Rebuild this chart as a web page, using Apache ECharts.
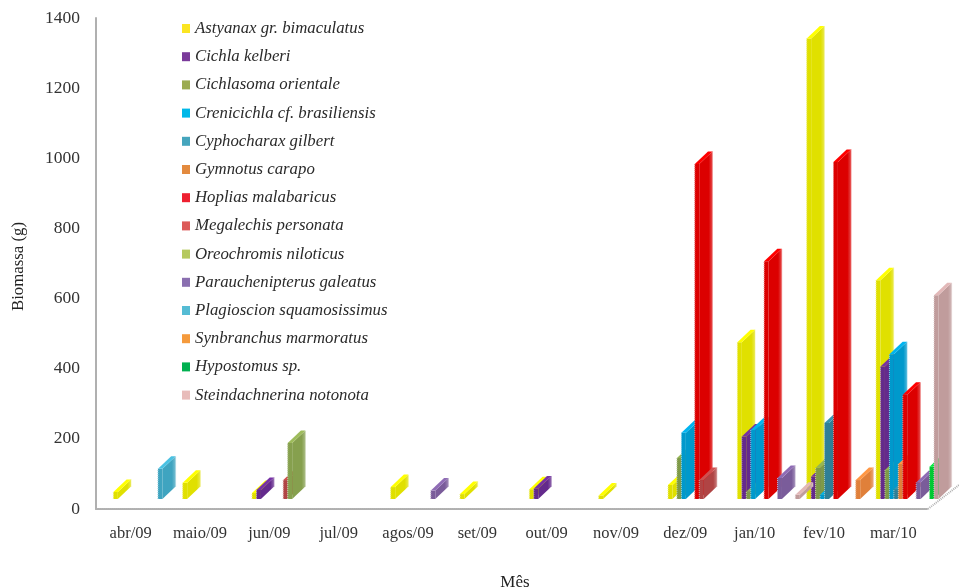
<!DOCTYPE html>
<html><head><meta charset="utf-8">
<style>html,body{margin:0;padding:0;background:#fff}#c{width:959px;height:588px}</style>
<script src="https://cdn.jsdelivr.net/npm/echarts@6/dist/echarts.min.js"></script>
</head><body><div id="c"></div>
<script>
const months = ['abr/09','maio/09','jun/09','jul/09','agos/09','set/09','out/09','nov/09','dez/09','jan/10','fev/10','mar/10'];
const names = ['Astyanax gr. bimaculatus','Cichla kelberi','Cichlasoma orientale','Crenicichla cf. brasiliensis','Cyphocharax gilbert','Gymnotus carapo','Hoplias malabaricus','Megalechis personata','Oreochromis niloticus','Parauchenipterus galeatus','Plagioscion squamosissimus','Synbranchus marmoratus','Hypostomus sp.','Steindachnerina notonota'];
const astyanax    = [20,46,17,0,34,14,28,10,40,447,1313,624];
const cichla      = [0,0,26,0,0,0,30,0,0,178,64,378];
const cichlasoma  = [0,0,0,0,0,0,0,0,117,21,89,83];
const crenicichla = [0,0,0,0,0,0,0,0,189,197,12,413];
const cyphocharax = [0,0,0,0,0,0,0,0,0,0,217,28];
const gymnotus    = [0,0,0,0,0,0,0,0,0,0,0,100];
const hoplias     = [0,0,0,0,0,0,0,0,955,678,961,297];
const megalechis  = [0,0,54,0,0,0,0,0,54,0,0,0];
const oreochromis = [0,0,160,0,0,0,0,0,0,0,0,0];
const parauchen   = [0,0,0,0,24,0,0,0,0,60,0,47];
const plagioscion = [86,0,0,0,0,0,0,0,0,0,0,0];
const synbranchus = [0,0,0,0,0,0,0,0,0,0,54,0];
const hypostomus  = [0,0,0,0,0,0,0,0,0,0,0,92];
const steind      = [0,0,0,0,0,0,0,0,0,12,0,581];
const values = [astyanax,cichla,cichlasoma,crenicichla,cyphocharax,gymnotus,hoplias,megalechis,oreochromis,parauchen,plagioscion,synbranchus,hypostomus,steind];
const legendColors = ['#fbe522','#7a3a9a','#9bab50','#00b8e8','#45a5bd','#e38a3e','#ee2030','#dc5a58','#b5c95e','#8a6fb0','#55bcd4','#f59a3c','#00b050','#e8bcba'];
const barColors    = ['#e0e000','#642a8c','#7f9a48','#0099cc','#2f7f96','#e0803a','#dc0000','#b04444','#86a04e','#7a5c9a','#3fa4c0','#e0803a','#00c832','#c09c9c'];

const SLOT = 4.46, START = -17.3, DEPTH_X = 13.2, DEPTH_Y = 12.5, LIFT = 10;
const shade = (c, k) => echarts.color.lift(c, k);

function render(idx) {
  return function (params, api) {
    const m = api.value(0), v = api.value(1);
    const cx = api.coord([m, 0])[0];
    const y0 = api.coord([m, 0])[1] - LIFT;
    const y1 = api.coord([m, v])[1] - LIFT;
    const x0 = cx + START + idx * SLOT, x1 = x0 + SLOT;
    const c = barColors[idx];
    const dx = DEPTH_X, dy = DEPTH_Y;
    const dark = shade(c, 0.5);
    const poly = (pts, fill) => ({type:'polygon', shape:{points:pts}, style:{fill:fill, stroke:null}});
    const line = (a, b) => ({type:'line', shape:{x1:a[0],y1:a[1],x2:b[0],y2:b[1]}, style:{stroke:dark,lineWidth:1,lineDash:[1,1]}});
    return {type:'group', children:[
      poly([[x1,y0],[x1+dx,y0-dy],[x1+dx,y1-dy],[x1,y1]], new echarts.graphic.LinearGradient(0,0,1,0,[
        {offset:0,color:c},{offset:0.72,color:c},{offset:1,color:shade(c,0.3)}])),
      poly([[x0,y0],[x1,y0],[x1,y1],[x0,y1]], c),
      poly([[x0,y1],[x1,y1],[x1+dx,y1-dy],[x0+dx,y1-dy]], shade(c,-0.18)),
      line([x0,y0],[x0,y1]),
      line([x1+dx,y0-dy],[x1+dx,y1-dy])
    ]};
  };
}

const series = names.map((n,i)=>({
  name:n, type:'custom', coordinateSystem:'cartesian2d', clip:false,
  renderItem:render(i), encode:{x:0,y:1},
  itemStyle:{color:legendColors[i]},
  data:values[i].map((v,m)=>[m,v]).filter(d=>d[1]>0), z:2+i/100
}));

const serif = '"Liberation Serif","Times New Roman",serif';
const chart = echarts.init(document.getElementById('c'),null,{renderer:'canvas'});
chart.setOption({
  animation:false, backgroundColor:'#fff',
  grid:{left:96,right:31,top:18,bottom:79,outerBoundsMode:'none'},
  legend:{orient:'vertical',left:182,top:20,padding:0,itemWidth:8,itemHeight:9,itemGap:11.2,icon:'rect',selectedMode:false,
    data:names,
    textStyle:{fontFamily:serif,fontStyle:'italic',fontSize:16.8,color:'#2a2a2a',lineHeight:17}},
  xAxis:{type:'category',data:months,boundaryGap:true,
    axisLine:{lineStyle:{color:'#b0b0b0',width:2,type:[1,1]}},axisTick:{show:false},
    axisLabel:{fontFamily:serif,fontSize:16.5,color:'#333',margin:16,interval:0},
    name:'Mês',nameLocation:'middle',nameGap:65,nameTextStyle:{fontFamily:serif,fontSize:17,color:'#222',padding:[0,0,0,6]}},
  yAxis:{type:'value',min:0,max:1400,interval:200,splitLine:{show:false},
    axisLine:{show:true,lineStyle:{color:'#b0b0b0',width:2}},axisTick:{show:false},
    axisLabel:{fontFamily:serif,fontSize:17.5,color:'#333',margin:16,formatter:v=>String(v)},
    name:'Biomassa (g)',nameLocation:'middle',nameGap:69,nameRotate:90,nameTextStyle:{fontFamily:serif,fontSize:16.8,color:'#222',padding:[0,6,0,0]}},
  graphic:[
    {type:'line',z:1,shape:{x1:928,y1:509,x2:959,y2:485},style:{stroke:'#b0b0b0',lineWidth:2,lineDash:[1,1]}}
  ],
  series:series
});
</script></body></html>
